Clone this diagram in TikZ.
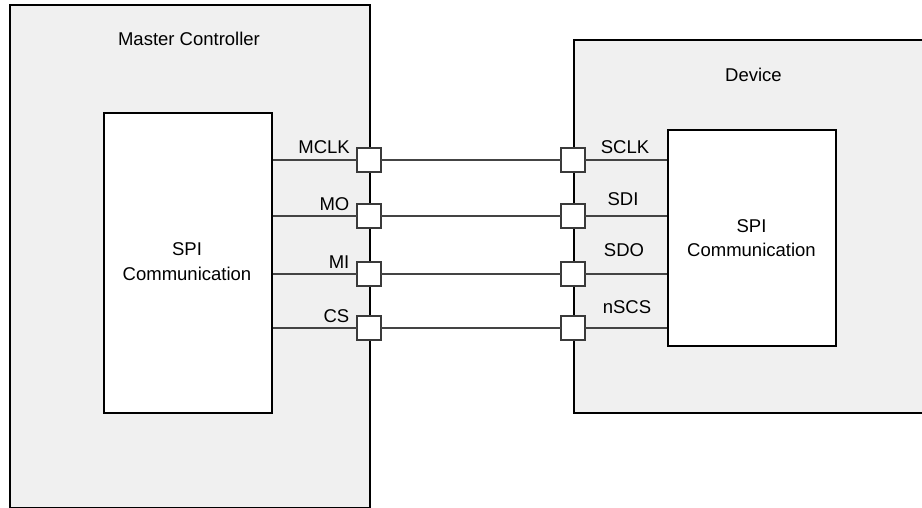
\documentclass[tikz,border=0pt]{standalone}
\usepackage{fontspec}
\setmainfont{Liberation Sans}
\definecolor{boxgray}{HTML}{F0F0F0}
\definecolor{wiregray}{HTML}{444444}
\definecolor{portgray}{HTML}{3A3A3A}
\begin{document}
\begin{tikzpicture}[x=1pt,y=-1pt,
  container/.style={draw=black, line width=2pt, fill=boxgray, anchor=north west, inner sep=0pt},
  innerbox/.style={draw=black, line width=2pt, fill=white, anchor=north west, inner sep=0pt,
     align=center, font=\fontsize{18.5}{24.5}\selectfont},
  port/.style={draw=portgray, line width=1.4pt, fill=white, minimum size=24pt, inner sep=0pt, outer sep=0pt},
  wire/.style={draw=wiregray, line width=1.4pt},
  lbl/.style={font=\fontsize{18.5}{22}\selectfont, text=black, inner sep=0pt}]
\useasboundingbox (0,0) rectangle (922,507);
% containers
\node[container, minimum width=360pt, minimum height=503pt] (master) at (9,4) {};
\node[container, minimum width=361pt, minimum height=373pt] (device) at (573,39) {};
\node[lbl, anchor=base] (mtitle) at (189,45) {Master Controller};
\node[lbl, anchor=base] (dtitle) at (753.5,81) {Device};
% inner blocks
\node[innerbox, minimum width=168pt, minimum height=300pt] (inL) at (103,112) {};
\node[lbl, align=center, font=\fontsize{18.5}{25}\selectfont] (tL) at (187,262) {SPI\\Communication};
\node[innerbox, minimum width=168pt, minimum height=216pt] (inR) at (667,129) {};
\node[lbl, align=center, font=\fontsize{18.5}{24}\selectfont] (tR) at (751.5,238) {SPI\\Communication};
% ports
\foreach \n/\y in {a/160, b/216, c/274, d/328}{
  \node[port] (L\n) at (369,\y) {};
  \node[port] (R\n) at (573,\y) {};
}
% wires
\foreach \n in {a,b,c,d}{
  \draw[wire] (inL.east |- L\n) -- (L\n.west);
  \draw[wire] (L\n.east) -- (R\n.west);
  \draw[wire] (R\n.east) -- (inR.west |- R\n);
}
% master labels
\node[lbl, anchor=base east] (lmclk) at (350,153) {MCLK};
\node[lbl, anchor=base east] (lmo) at (349.5,210) {MO};
\node[lbl, anchor=base east] (lmi) at (349.5,268) {MI};
\node[lbl, anchor=base east] (lcs) at (349.5,322) {CS};
% device labels
\node[lbl, anchor=base] (rsclk) at (625,153.5) {SCLK};
\node[lbl, anchor=base] (rsdi) at (623,205) {SDI};
\node[lbl, anchor=base] (rsdo) at (624,256.5) {SDO};
\node[lbl, anchor=base] (rnscs) at (627,313) {nSCS};
\end{tikzpicture}
\end{document}
